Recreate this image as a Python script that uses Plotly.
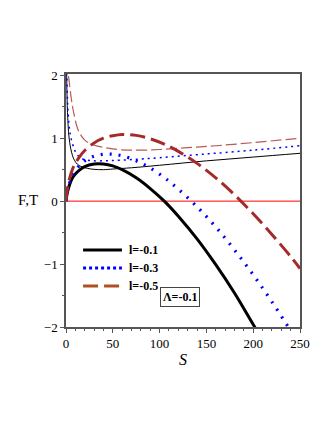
import plotly.graph_objects as go

# ── F (free energy) curves, thick ──
S_F = [0, 1, 2, 4, 7, 10, 15, 20, 30, 40, 50, 60, 75, 90, 105, 120, 140, 160, 180, 200, 220, 240, 250]
F_l1 = [0, 0.10, 0.17, 0.27, 0.37, 0.43, 0.50, 0.55, 0.59, 0.59, 0.56, 0.50, 0.37, 0.20, 0.0,
        -0.24, -0.60, -1.01, -1.46, -1.96, -2.45, -3.0, -3.3]
F_l3 = [0, 0.11, 0.19, 0.29, 0.40, 0.48, 0.575, 0.64, 0.715, 0.745, 0.745, 0.72, 0.64, 0.525, 0.375,
        0.19, -0.09, -0.41, -0.775, -1.17, -1.60, -2.06, -2.3]
F_l5 = [0, 0.14, 0.24, 0.37, 0.51, 0.60, 0.715, 0.805, 0.925, 1.0, 1.04, 1.06, 1.045, 0.99, 0.905,
        0.79, 0.60, 0.37, 0.10, -0.20, -0.53, -0.88, -1.07]

# ── T (temperature) curves, thin ──
S_T1 = [0.5, 0.7, 1, 1.5, 2, 3, 4, 5, 7, 9, 12, 16, 23, 30, 40, 50, 70, 100, 150, 200, 250]
T_l1 = [2.6, 2.05, 1.75, 1.45, 1.28, 1.05, 0.93, 0.84, 0.72, 0.65, 0.59, 0.55, 0.52, 0.505, 0.50,
        0.51, 0.53, 0.57, 0.64, 0.70, 0.76]
S_T3 = [0.5, 0.7, 1, 1.5, 2, 3, 4, 5, 7, 10, 13, 16, 20, 25, 30, 40, 50, 70, 100, 150, 200, 250]
T_l3 = [2.9, 2.3, 1.95, 1.65, 1.47, 1.25, 1.12, 1.03, 0.91, 0.785, 0.72, 0.68, 0.66, 0.645, 0.64,
        0.64, 0.645, 0.66, 0.69, 0.75, 0.81, 0.88]
S_T5 = [1, 1.5, 2, 3, 5, 7, 9, 12, 15, 20, 25, 30, 40, 50, 60, 70, 85, 100, 130, 160, 200, 250]
T_l5 = [2.7, 2.3, 2.05, 1.95, 1.70, 1.50, 1.35, 1.17, 1.07, 0.97, 0.92, 0.89, 0.855, 0.83, 0.815,
        0.81, 0.81, 0.82, 0.85, 0.88, 0.93, 1.0]

labels = ["l=-0.1", "l=-0.3", "l=-0.5"]
lambda_text = "Λ=-0.1"

BLACK = "#000000"
BLUE = "#0000ff"
BROWN = "#a52a2a"
SERIF = "Liberation Serif, Times New Roman, serif"

fig = go.Figure()

# zero line
fig.add_trace(go.Scatter(x=[0, 250], y=[0, 0], mode="lines",
                         line=dict(color="#ff0000", width=1), showlegend=False))

# thin T curves
fig.add_trace(go.Scatter(x=S_T1, y=T_l1, mode="lines", line_shape="spline",
                         line=dict(color=BLACK, width=1), showlegend=False))
fig.add_trace(go.Scatter(x=S_T3, y=T_l3, mode="lines", line_shape="spline",
                         line=dict(color=BLUE, width=1.5, dash="2px,4px"), showlegend=False))
fig.add_trace(go.Scatter(x=S_T5, y=T_l5, mode="lines", line_shape="spline",
                         line=dict(color="#b75a5a", width=1.2, dash="11px,4px"), showlegend=False))

# thick F curves
fig.add_trace(go.Scatter(x=S_F, y=F_l1, mode="lines", line_shape="spline",
                         line=dict(color=BLACK, width=3), showlegend=False))
fig.add_trace(go.Scatter(x=S_F, y=F_l3, mode="lines", line_shape="spline",
                         line=dict(color=BLUE, width=3.2, dash="2px,7px"), showlegend=False))
fig.add_trace(go.Scatter(x=S_F, y=F_l5, mode="lines", line_shape="spline",
                         line=dict(color=BROWN, width=3, dash="15px,6px"), showlegend=False))

# manual legend (paper coords of the plot area)
leg_styles = [
    dict(color=BLACK, width=3, dash="solid"),
    dict(color=BLUE, width=3, dash="dot"),
    dict(color="#b0501e", width=3, dash="15px,6px"),
]
leg_y = [0.304, 0.233, 0.162]
for lab, st, yy in zip(labels, leg_styles, leg_y):
    fig.add_shape(type="line", xref="paper", yref="paper", x0=0.073, x1=0.239, y0=yy, y1=yy,
                  line=st)
    fig.add_annotation(text=f"<b>{lab}</b>", xref="paper", yref="paper", x=0.262, y=yy,
                       xanchor="left", yanchor="middle", showarrow=False,
                       font=dict(family=SERIF, size=12, color="black"))

fig.add_annotation(text=f"<b>{lambda_text}</b>", xref="paper", yref="paper", x=0.489, y=0.117,
                   xanchor="center", yanchor="middle", showarrow=False,
                   bordercolor="#444", borderwidth=1, borderpad=2, bgcolor="white",
                   font=dict(family=SERIF, size=12, color="black"))

fig.add_annotation(text="F,T", xref="paper", yref="paper", x=-0.163, y=0.502,
                   xanchor="center", yanchor="middle", showarrow=False,
                   font=dict(family=SERIF, size=15, color="black"))
fig.add_annotation(text="<i>S</i>", xref="paper", yref="paper", x=0.5, y=-0.085,
                   xanchor="center", yanchor="top", showarrow=False,
                   font=dict(family=SERIF, size=16, color="black"))

axis_common = dict(showgrid=False, zeroline=False, showline=True, mirror=True,
                   linecolor="#555555", linewidth=1.5, ticks="outside", ticklen=4,
                   tickcolor="#555555", tickfont=dict(family=SERIF, size=13, color="black"))

# page body has an 8px margin, so the figure is shrunk/shifted to compensate
fig.update_layout(
    width=324, height=422,
    margin=dict(l=58, r=32, t=66, b=103),
    paper_bgcolor="white", plot_bgcolor="white",
    showlegend=False,
    xaxis=dict(range=[0, 250], tickvals=[0, 50, 100, 150, 200, 250],
               minor=dict(dtick=10, ticks="outside", ticklen=2, tickcolor="#555555"),
               **axis_common),
    yaxis=dict(range=[-2, 2.02], tickvals=[-2, -1, 0, 1, 2],
               minor=dict(dtick=0.5, ticks="outside", ticklen=2, tickcolor="#555555"),
               **axis_common),
)

fig.write_html("out.html")
